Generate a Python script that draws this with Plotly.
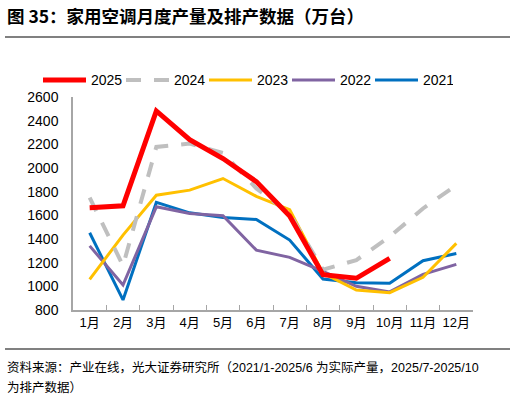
import plotly.graph_objects as go

months = ["1月", "2月", "3月", "4月", "5月", "6月", "7月", "8月", "9月", "10月", "11月", "12月"]
y2025 = [1665, 1680, 2482, 2240, 2080, 1885, 1595, 1098, 1068, 1236]
y2024 = [1750, 1175, 2178, 2206, 2127, 1827, 1615, 1140, 1222, 1419, 1658, 1855]
y2023 = [1059, 1433, 1770, 1813, 1911, 1761, 1648, 1112, 969, 946, 1076, 1363]
y2022 = [1342, 1011, 1672, 1616, 1596, 1306, 1245, 1126, 1000, 953, 1101, 1186]
y2021 = [1453, 885, 1709, 1621, 1582, 1565, 1391, 1062, 1030, 1026, 1216, 1278]
yticks = [800, 1000, 1200, 1400, 1600, 1800, 2000, 2200, 2400, 2600]

FONT = "Liberation Sans, Arial, Noto Sans CJK SC, sans-serif"

fig = go.Figure()
series = [
    ("2025", y2025, "#FF0000", 5, "solid"),
    ("2024", y2024, "#BFBFBF", 4, "15px,13px"),
    ("2023", y2023, "#FFC000", 3, "solid"),
    ("2022", y2022, "#8064A2", 3, "solid"),
    ("2021", y2021, "#0070C0", 3, "solid"),
]
for name, ys, color, w, dash in reversed(series):
    fig.add_trace(go.Scatter(
        x=months[:len(ys)], y=ys, name=name, mode="lines",
        line=dict(color=color, width=w, dash=dash),
        legendrank={"2025": 1, "2024": 2, "2023": 3, "2022": 4, "2021": 5}[name],
    ))

fig.update_layout(
    width=515, height=399,
    margin=dict(l=73, r=42, t=97, b=89, autoexpand=False),
    paper_bgcolor="white", plot_bgcolor="white",
    font=dict(family=FONT, size=14, color="#000000"),
    showlegend=True,
    legend=dict(
        orientation="h", xref="paper", yref="paper",
        x=(38 - 73) / 400, y=(310 - 80) / 213.3, xanchor="left", yanchor="middle",
        font=dict(size=14), itemwidth=43, entrywidth=25, entrywidthmode="pixels",
        traceorder="normal", bgcolor="rgba(0,0,0,0)",
    ),
    xaxis=dict(
        categoryorder="array", categoryarray=months, range=[-0.5, 11.5],
        showline=True, linecolor="#A6A6A6", linewidth=1.5,
        ticks="inside", tickson="boundaries", ticklen=5, tickcolor="#A6A6A6",
        showgrid=False, tickfont=dict(size=13), tickangle=0, fixedrange=True,
    ),
    yaxis=dict(
        range=[800, 2600], tickvals=yticks,
        showline=True, linecolor="#A6A6A6", linewidth=1.5,
        ticks="", showgrid=False, zeroline=False, tickfont=dict(size=14),
        ticklabelstandoff=10,
    ),
    shapes=[
        dict(type="line", xref="paper", yref="paper", x0=-68/400, x1=437/400,
             y0=(310-36.5)/213.3, y1=(310-36.5)/213.3,
             line=dict(color="#808080", width=2)),
        dict(type="line", xref="paper", yref="paper", x0=-68/400, x1=437/400,
             y0=(310-349)/213.3, y1=(310-349)/213.3,
             line=dict(color="#808080", width=2)),
    ],
    annotations=[
        dict(text="<b>图 35：家用空调月度产量及排产数据（万台）</b>", xref="paper", yref="paper",
             x=-68/400, y=(310-15)/213.3, xanchor="left", yanchor="middle", showarrow=False,
             font=dict(size=17.5, family="Noto Sans CJK SC, Liberation Sans, sans-serif", color="#000")),
        dict(text="资料来源：产业在线，光大证券研究所（2021/1-2025/6 为实际产量，2025/7-2025/10",
             xref="paper", yref="paper", x=-68/400, y=(310-368)/213.3,
             xanchor="left", yanchor="middle", showarrow=False,
             font=dict(size=12.5, family="Liberation Sans, Noto Sans CJK SC, sans-serif", color="#000")),
        dict(text="为排产数据）",
             xref="paper", yref="paper", x=-68/400, y=(310-388)/213.3,
             xanchor="left", yanchor="middle", showarrow=False,
             font=dict(size=12.5, family="Liberation Sans, Noto Sans CJK SC, sans-serif", color="#000")),
    ],
)

fig.write_html("out.html", config={"displayModeBar": False},
               post_script="document.body.style.margin='0';")
